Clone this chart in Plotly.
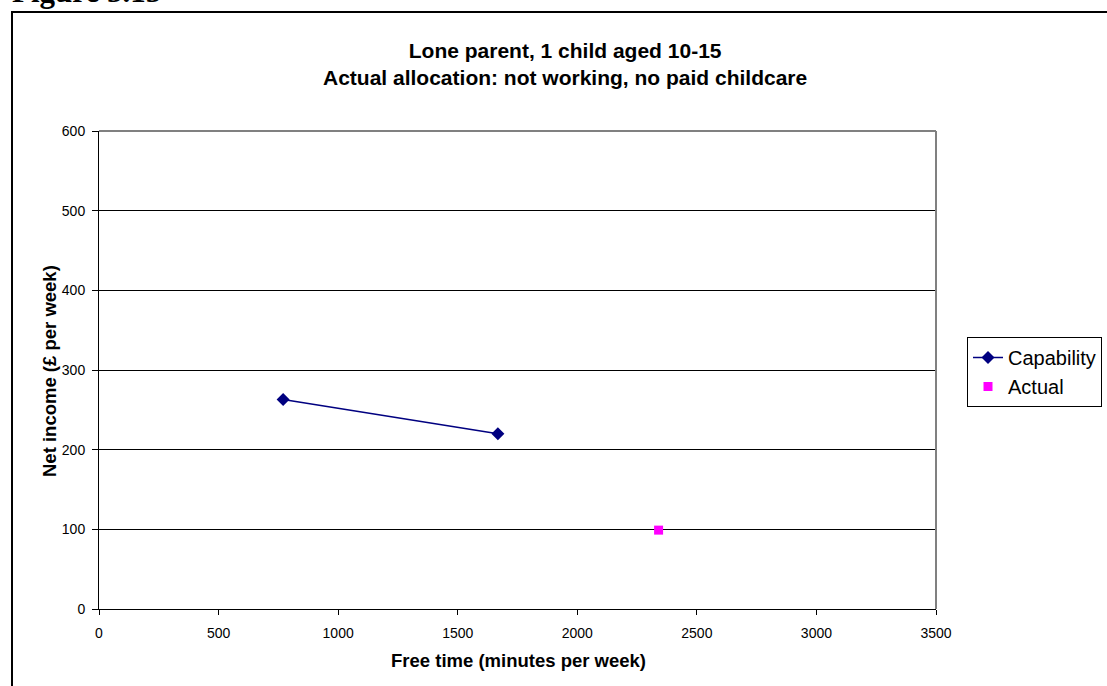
import plotly.graph_objects as go

cap_x = [770, 1668]
cap_y = [263, 220]
act_x = [2340]
act_y = [99]

x_ticks = [0, 500, 1000, 1500, 2000, 2500, 3000, 3500]
y_ticks = [0, 100, 200, 300, 400, 500, 600]

fig = go.Figure()
fig.add_trace(go.Scatter(x=cap_x, y=cap_y, mode="lines+markers", name="Capability",
                         line=dict(color="#000080", width=1.5),
                         marker=dict(symbol="diamond", size=10, color="#000080")))
fig.add_trace(go.Scatter(x=act_x, y=act_y, mode="markers", name="Actual",
                         marker=dict(symbol="square", size=9, color="#FF00FF")))

L, R, T, B = 99, 936, 131, 609
W, H = 1107, 686
pw, ph = R - L, B - T

def px(x):
    return (x - L) / pw

def py(y):
    return (B - y) / ph

font = "Liberation Sans, Arial, sans-serif"
fig.update_layout(
    width=W, height=H,
    margin=dict(l=L, r=W - R, t=T, b=H - B, autoexpand=False),
    paper_bgcolor="white", plot_bgcolor="white",
    font=dict(family=font, color="black", size=14),
    showlegend=True,
    legend=dict(x=px(967), y=py(337), xanchor="left", yanchor="top",
                bordercolor="black", borderwidth=1, bgcolor="white",
                font=dict(size=20, family=font), tracegroupgap=0,
                itemwidth=30),
    xaxis=dict(range=[0, 3500], tickvals=x_ticks, showgrid=False, zeroline=False,
               showline=True, linecolor="black", linewidth=1, ticks="outside",
               ticklen=5, tickcolor="black", mirror=False, ticklabelstandoff=6,
               tickfont=dict(size=14, family=font)),
    yaxis=dict(range=[0, 600], tickvals=y_ticks, showgrid=True, gridcolor="black",
               gridwidth=1, zeroline=False, showline=True, linecolor="black",
               linewidth=1, ticks="outside", ticklen=6, tickcolor="black",
               ticklabelstandoff=4,
               tickfont=dict(size=14, family=font)),
)

shapes = [
    dict(type="line", xref="paper", yref="paper", x0=0, x1=1, y0=1, y1=1,
         line=dict(color="#808080", width=2)),
    dict(type="line", xref="paper", yref="paper", x0=1, x1=1, y0=0, y1=1,
         line=dict(color="#808080", width=2)),
    dict(type="rect", xref="paper", yref="paper", x0=px(12), x1=px(1115),
         y0=py(695), y1=py(12), line=dict(color="black", width=2),
         fillcolor="rgba(0,0,0,0)", layer="below"),
]
fig.update_layout(shapes=shapes)

annotations = [
    dict(text="<b>Lone parent, 1 child aged 10-15<br>Actual allocation: not working, no paid childcare</b>",
         x=px(565), y=py(64), xref="paper", yref="paper", xanchor="center", yanchor="middle",
         showarrow=False, font=dict(size=21, family=font)),
    dict(text="<b>Free time (minutes per week)</b>", x=px(518), y=py(660),
         xref="paper", yref="paper", xanchor="center", yanchor="middle",
         showarrow=False, font=dict(size=18.5, family=font)),
    dict(text="<b>Net income (£ per week)</b>", x=px(49), y=py(371),
         xref="paper", yref="paper", xanchor="center", yanchor="middle",
         textangle=-90, showarrow=False, font=dict(size=18.5, family=font)),
    dict(text="<b>Figure 5.15</b>", x=px(10), y=py(11), xref="paper", yref="paper",
         xanchor="left", yanchor="bottom", showarrow=False,
         font=dict(size=31, family="Liberation Serif, Times New Roman, serif")),
]
fig.update_layout(annotations=annotations)

fig.write_html("out.html")
